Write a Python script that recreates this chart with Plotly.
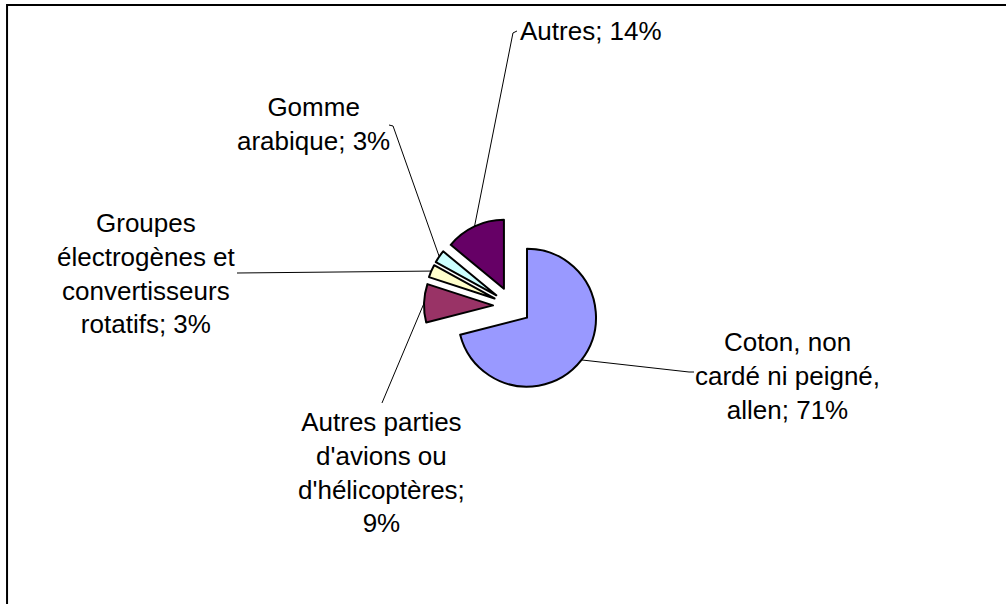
import math
import plotly.graph_objects as go

# data
labels = ["Coton, non cardé ni peigné, allen",
          "Autres parties d'avions ou d'hélicoptères",
          "Groupes électrogènes et convertisseurs rotatifs",
          "Gomme arabique",
          "Autres"]
values = [71, 9, 3, 3, 14]
label_wrapped = ["Coton, non<br>cardé ni peigné,<br>allen; {}%",
                 "Autres parties<br>d'avions ou<br>d'hélicoptères;<br>{}%",
                 "Groupes<br>électrogènes et<br>convertisseurs<br>rotatifs; {}%",
                 "Gomme<br>arabique; {}%",
                 "Autres; {}%"]
colors = ["#9999FF", "#993366", "#FFFFCC", "#CCFFFF", "#660066"]

W, H = 1006, 604
CX, CY = 512, 306      # pie centre, px
R = 69                 # slice radius, px
PULL = 0.275

# label placement (px): anchor of text, and elbow points of leader lines
label_pos = [(787, 376, "center"), (381, 473, "center"), (146, 273, "center"),
             (313, 124, "center"), (518, 31, "left")]
leader_end = [[(689, 372), (694, 372)],
              [(382, 403)],
              [(237, 273)],
              [(393, 126), (389, 125)],
              [(513, 33), (517, 31)]]


def px(x, y):
    return x / W, 1 - y / H


half = R * (1 + PULL)
fig = go.Figure(go.Pie(
    labels=labels, values=values, sort=False, direction="clockwise", rotation=0,
    pull=[PULL] * len(values), textinfo="none", hoverinfo="label+percent",
    marker=dict(colors=colors, line=dict(color="black", width=2)),
    domain=dict(x=[(CX - half) / W, (CX + half) / W],
                y=[1 - (CY + half) / H, 1 - (CY - half) / H]),
    showlegend=False,
))

total = sum(values)
cum = 0
shapes = []
annotations = []
for i, v in enumerate(values):
    mid = (cum + v / 2) / total * 2 * math.pi
    cum += v
    rr = R * (1 + PULL)
    sx, sy = CX + rr * math.sin(mid), CY - rr * math.cos(mid)
    pts = [(sx, sy)] + leader_end[i]
    path = "M " + " L ".join("{:.4f},{:.4f}".format(*px(x, y)) for x, y in pts)
    shapes.append(dict(type="path", xref="paper", yref="paper", path=path,
                       line=dict(color="black", width=1)))
    lx, ly, anc = label_pos[i]
    ax, ay = px(lx, ly)
    annotations.append(dict(x=ax, y=ay, xref="paper", yref="paper", showarrow=False,
                            text=label_wrapped[i].format(round(v / total * 100)),
                            xanchor=anc, yanchor="middle", align="center",
                            font=dict(size=26, color="black")))

# chart frame (cut off at right/bottom)
shapes.append(dict(type="path", xref="paper", yref="paper",
                   path="M {:.4f},-0.1 L {:.4f},{:.4f} L 1.1,{:.4f}".format(
                       7 / W, 7 / W, 1 - 5 / H, 1 - 5 / H),
                   line=dict(color="black", width=2)))

fig.update_layout(
    width=W, height=H,
    margin=dict(l=0, r=0, t=0, b=0),
    paper_bgcolor="white", plot_bgcolor="white",
    font=dict(family="Liberation Sans, Arial, sans-serif", color="black"),
    shapes=shapes, annotations=annotations,
)

fig.write_html("out.html", config={"displayModeBar": False},
               post_script="document.body.style.margin='0';document.body.style.overflow='hidden';")
